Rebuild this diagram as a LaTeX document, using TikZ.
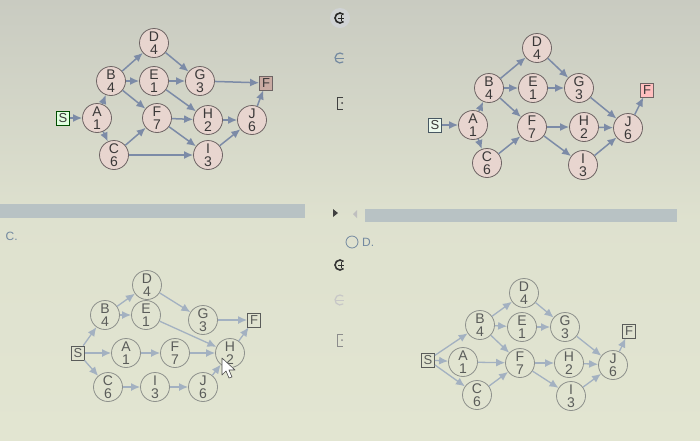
\documentclass[tikz,border=0pt]{standalone}
\usepackage{fontspec}
\setmainfont{Liberation Sans}
\usetikzlibrary{arrows.meta}
\definecolor{bgtop}{HTML}{C9CBC1}
\definecolor{bgbot}{HTML}{E2E5D1}
\definecolor{actfill}{HTML}{E8D5CF}
\definecolor{actline}{HTML}{6E6464}
\definecolor{acttext}{HTML}{3A3838}
\definecolor{arrcol}{HTML}{7C8BA7}
\definecolor{fadeline}{HTML}{8E918C}
\definecolor{fadetext}{HTML}{5A5C5A}
\definecolor{fadearr}{HTML}{A3B1C1}
\definecolor{barcol}{HTML}{B8C2C4}
\definecolor{uitext}{HTML}{7389A0}
\definecolor{finfill}{HTML}{C9AAA2}

\begin{document}
\begin{tikzpicture} [x=1pt, y=-1pt, thick,
	act/.style = {draw=actline, fill=actfill, circle, minimum size=29pt, inner sep=0pt, align=center, text=acttext, font=\fontsize{14}{12.5}\selectfont},
	actfade/.style = {act, draw=fadeline, fill=none, text=fadetext},
	term/.style = {draw=actline, minimum width=13pt, minimum height=14pt, inner sep=0pt, text=acttext, font=\fontsize{13}{13}\selectfont},
	termfade/.style = {term, draw=fadetext, fill=none, text=fadetext},
	arr/.style = {-{Latex[length=9pt,width=8pt]}, draw=arrcol, line width=1.5pt},
	arrfade/.style = {arr, draw=fadearr, line width=1.3pt}]
\newcommand{\actlabel}[2]{#1\\#2}
\useasboundingbox (0,0) rectangle (700,440);
\shade[top color=bgtop, bottom color=bgbot, middle color=bgbot!85!bgtop] (0,0) rectangle (700,440);

\fill[barcol] (0,204) rectangle (305,218);
\fill[barcol] (365,209) rectangle (677,222);
\fill[black!75] (333,209) -- (338,213) -- (333,217) -- cycle;
\fill[black!25] (357,210) -- (353,214) -- (357,218) -- cycle;
\node[text=uitext, font=\fontsize{12}{12}\selectfont, anchor=west] (copt) at (2,236) {C.};
\node[draw=uitext, circle, minimum size=12pt, inner sep=0pt, line width=0.8pt] (dradio) at (352,242) {};
\node[text=uitext, font=\fontsize{12}{12}\selectfont, anchor=west] (dopt) at (dradio.east) {D.};

\fill[blue!8!bgbot] (340,18) circle (10);
\foreach \y/\c in {18/black!85, 265/black!80} {
	\draw[\c, line width=1.6pt] (340,\y) ++(45:5) arc (45:315:5);
	\draw[\c, line width=1pt] (338,\y) -- (344,\y) (341,\y-3) -- (341,\y+3);
}
\foreach \y/\c in {58/uitext, 300/black!22} {
	\draw[\c, line width=1.2pt] (340,\y) ++(50:5) arc (50:310:5);
	\draw[\c, line width=1pt] (336,\y) -- (344,\y);
}
\foreach \y/\c in {103/black!75, 340/black!45} {
	\draw[\c, line width=1pt] (343,\y-6) -- (337,\y-6) -- (337,\y+6) -- (343,\y+6);
	\fill[\c] (342,\y) circle (1);
}

\node[term, fill=green!12!white, draw=green!30!black] (s1) at (63,118) {S};
\node[term, fill=finfill] (fin1) at (266,83) {F};
\foreach \n/\x/\y/\d in {A/97/118/1, B/111/81/4, C/114/155/6, D/154/43/4, E/154/81/1, F/157/118/7, G/200/81/3, H/208/120/2, I/208/155/3, J/252/120/6}
	\node[act] (\n1) at (\x,\y) {\actlabel{\n}{\d}};
\foreach \a/\b in {s1/A1, A1/B1, A1/C1, B1/D1, B1/E1, B1/F1, C1/F1, C1/I1, D1/G1, E1/G1, E1/H1, F1/H1, F1/I1, G1/fin1, H1/J1, I1/J1, J1/fin1}
	\draw[arr] (\a) -- (\b);

\node[term, fill=cyan!10!green!8!white, draw=cyan!30!black] (s2) at (435,125) {S};
\node[term, fill=red!25!white] (fin2) at (647,90) {F};
\foreach \n/\x/\y/\d in {A/473/125/1, B/489/88/4, C/487/163/6, D/537/48/4, E/533/88/1, F/532/127/7, G/579/88/3, H/584/127/2, I/583/165/3, J/628/128/6}
	\node[act] (\n2) at (\x,\y) {\actlabel{\n}{\d}};
\foreach \a/\b in {s2/A2, A2/B2, A2/C2, B2/D2, B2/E2, B2/F2, C2/F2, D2/G2, E2/G2, F2/H2, F2/I2, G2/J2, H2/J2, I2/J2, J2/fin2}
	\draw[arr] (\a) -- (\b);

\node[termfade] (s3) at (78,353) {S};
\node[termfade] (fin3) at (254,320) {F};
\foreach \n/\x/\y/\d in {A/126/353/1, B/105/315/4, C/108/387/6, D/147/285/4, E/146/315/1, F/175/353/7, G/203/320/3, H/230/353/2, I/155/387/3, J/203/387/6}
	\node[actfade] (\n3) at (\x,\y) {\actlabel{\n}{\d}};
\foreach \a/\b in {s3/A3, s3/B3, s3/C3, B3/D3, B3/E3, D3/G3, E3/H3, A3/F3, F3/H3, C3/I3, I3/J3, J3/H3, G3/fin3, H3/fin3}
	\draw[arrfade] (\a) -- (\b);
\filldraw[fill=white, draw=black!70, line width=0.6pt, line join=round] (222,358) -- (222,375) -- (226,371) -- (229,378) -- (232,377) -- (229,370) -- (235,370) -- cycle;

\node[termfade] (s4) at (428,360) {S};
\node[termfade] (fin4) at (629,331) {F};
\foreach \n/\x/\y/\d in {A/463/362/1, B/480/325/4, C/477/395/6, D/524/293/4, E/522/327/1, F/520/363/7, G/565/327/3, H/569/363/2, I/571/396/3, J/613/365/6}
	\node[actfade] (\n4) at (\x,\y) {\actlabel{\n}{\d}};
\foreach \a/\b in {s4/A4, s4/B4, s4/C4, A4/F4, B4/D4, B4/E4, B4/F4, C4/F4, D4/G4, E4/G4, F4/H4, F4/I4, G4/J4, H4/J4, I4/J4, J4/fin4}
	\draw[arrfade] (\a) -- (\b);
\end{tikzpicture}
\end{document}
